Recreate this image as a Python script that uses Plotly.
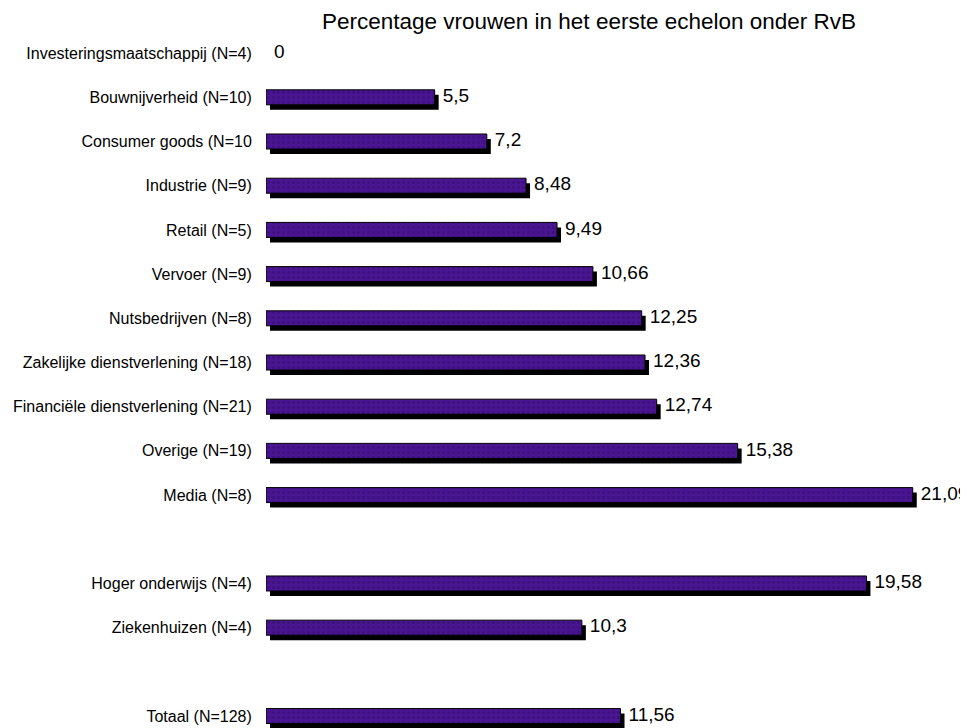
import plotly.graph_objects as go

# ---- data ----
categories = [
    "Investeringsmaatschappij (N=4)",
    "Bouwnijverheid (N=10)",
    "Consumer goods (N=10",
    "Industrie (N=9)",
    "Retail (N=5)",
    "Vervoer (N=9)",
    "Nutsbedrijven (N=8)",
    "Zakelijke dienstverlening (N=18)",
    "Financiële dienstverlening (N=21)",
    "Overige (N=19)",
    "Media (N=8)",
    None,
    "Hoger onderwijs (N=4)",
    "Ziekenhuizen (N=4)",
    None,
    "Totaal (N=128)",
]
values = [0, 5.5, 7.2, 8.48, 9.49, 10.66, 12.25, 12.36, 12.74, 15.38, 21.09,
          None, 19.58, 10.3, None, 11.56]
title_text = "Percentage vrouwen in het eerste echelon onder RvB"

# ---- derived ----
pos = [i for i, c in enumerate(categories) if c is not None]
labels = [c for c in categories if c is not None]
vals = [v for v in values if v is not None]
texts = [("%g" % v).replace(".", ",") for v in vals]

# page has an 8px body margin, so the figure is 960x720
W, H = 960, 720
ml, mr, mt, mb = 258, 12, 27, 0
xmax = 22.5
ylo, yhi = -0.41, 15.27
px_x = (W - ml - mr) / xmax
px_y = (H - mt - mb) / (yhi - ylo)

bar_w = 15 / px_y
sh_dx = 4 / px_x
sh_dy = 5 / px_y
txt_dx = 4 / px_x

FONT = "Liberation Sans, Arial, sans-serif"

fig = go.Figure()
# shadow
fig.add_trace(go.Bar(
    y=pos, x=vals, base=[sh_dx] * len(vals), orientation="h",
    width=bar_w, offset=-bar_w / 2 + sh_dy,
    marker=dict(color="black", line=dict(width=0)),
    hoverinfo="skip", showlegend=False,
))
# main bar
fig.add_trace(go.Bar(
    y=pos, x=vals, orientation="h",
    width=bar_w, offset=-bar_w / 2,
    marker=dict(
        color="#4a1592",
        line=dict(color="black", width=[1 if v > 0 else 0 for v in vals]),
        pattern=dict(shape=".", fgcolor="#340d6c", size=5, solidity=0.35,
                     fillmode="overlay"),
    ),
    showlegend=False,
))
# value labels
fig.add_trace(go.Scatter(
    y=pos, x=[v + sh_dx + txt_dx for v in vals], mode="text",
    text=texts, textposition="middle right", cliponaxis=False,
    textfont=dict(family=FONT, size=19, color="black"),
    hoverinfo="skip", showlegend=False,
))

fig.update_layout(
    width=W, height=H,
    margin=dict(l=ml, r=mr, t=mt, b=mb, autoexpand=False),
    paper_bgcolor="white", plot_bgcolor="white",
    barmode="overlay",
    title=dict(text=title_text, x=581 / W, xref="container", xanchor="center",
               y=1 - 13 / H, yref="container", yanchor="middle",
               font=dict(family=FONT, size=22.5, color="black")),
    xaxis=dict(range=[0, xmax], visible=False, automargin=False),
    yaxis=dict(range=[yhi, ylo], tickvals=pos, ticktext=labels,
               showgrid=False, zeroline=False, showline=False, automargin=False,
               ticks="outside", ticklen=10, tickcolor="rgba(0,0,0,0)",
               tickfont=dict(family=FONT, size=16, color="black")),
)

fig.write_html("out.html")
